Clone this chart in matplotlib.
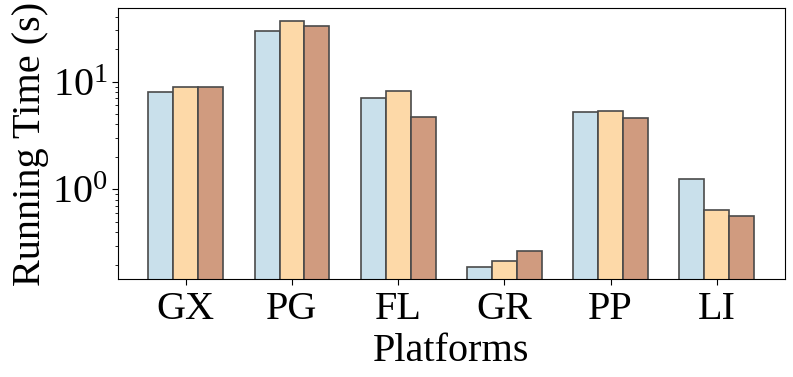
import numpy as np
import matplotlib
matplotlib.use("Agg")
import matplotlib.pyplot as plt

# Running time per platform, three configurations
platforms = ["GX", "PG", "FL", "GR", "PP", "LI"]
series_a = [7.98, 29.4, 7.1, 0.191, 5.2, 1.25]
series_b = [8.93, 36.8, 8.25, 0.215, 5.31, 0.642]
series_c = [8.93, 32.9, 4.73, 0.266, 4.64, 0.561]
colors = ["#c9e0eb", "#fdd9a8", "#d09b7f"]

plt.rcParams["font.family"] = ["Liberation Serif", "DejaVu Serif"]
plt.rcParams["mathtext.fontset"] = "stix"

fig, ax = plt.subplots(figsize=(7.93, 3.77), dpi=100)
fig.subplots_adjust(left=0.1488, right=0.9895, top=0.979, bottom=0.26)

x = np.arange(len(platforms))
w = 0.235
for i, vals in enumerate([series_a, series_b, series_c]):
    ax.bar(x + (i - 1) * w, vals, w, color=colors[i],
           edgecolor="#4a4a4a", linewidth=1.2)

ax.set_yscale("log")
ax.set_ylim(0.147, 48.3)
ax.set_xticks(x)
ax.set_xticklabels(platforms)
ax.tick_params(axis="both", which="major", labelsize=29, length=4)
ax.tick_params(axis="x", which="major", pad=5)
ax.tick_params(axis="y", which="minor", length=2)
ax.set_xlabel("Platforms", fontsize=29, labelpad=3)
ax.set_ylabel("Running Time (s)", fontsize=29, labelpad=2)

plt.savefig("out.png", dpi=100)
